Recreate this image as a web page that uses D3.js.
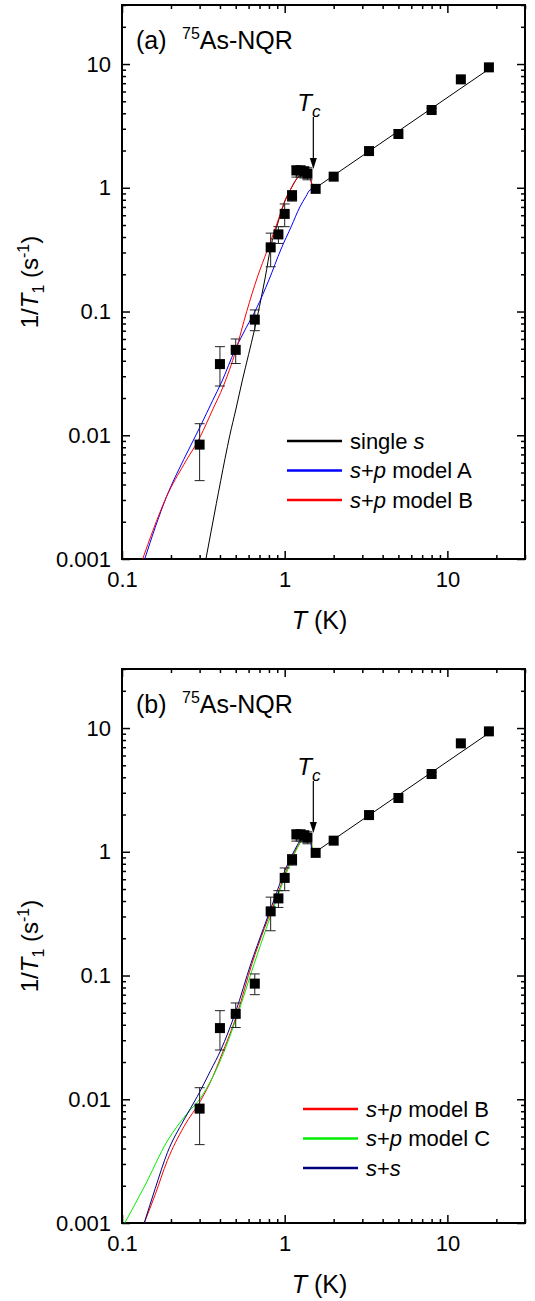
<!DOCTYPE html>
<html>
<head>
<meta charset="utf-8">
<script src="https://cdn.jsdelivr.net/npm/d3@7"></script>
<style>
  body { margin: 0; background: #fff; }
  svg { display: block; font-family: "Liberation Sans", Arial, sans-serif; }
</style>
</head>
<body>
<svg width="535" height="1301"></svg>
<script>
// measured points (same in both panels)
const temps = [0.3, 0.4, 0.5, 0.655, 0.82, 0.915, 1.0, 1.11, 1.18, 1.25, 1.32, 1.38, 1.55, 2.0, 3.3, 5.0, 8.0, 12.1, 18.0];
const rates = [0.0084, 0.0376, 0.049, 0.086, 0.33, 0.42, 0.615, 0.86, 1.38, 1.38, 1.35, 1.30, 0.98, 1.23, 1.98, 2.72, 4.25, 7.52, 9.4];
const errLo = [0.0043, 0.025, 0.038, 0.07, 0.23, 0.355, 0.485, 0.78, 1.22, 1.22, 1.2, 1.16, 0.98, 1.23, 1.98, 2.72, 4.1, 7.52, 9.4];
const errHi = [0.0124, 0.052, 0.060, 0.103, 0.43, 0.485, 0.74, 0.95, 1.5, 1.5, 1.48, 1.45, 0.98, 1.23, 1.98, 2.72, 4.4, 7.52, 9.4];

// normal state line (T1T = const)
const normalLine = [[1.5, 0.97], [18, 9.1]];

// fit curves, panel (a)
const singleS = [[0.328, 0.001], [0.38, 0.0028], [0.43, 0.0065], [0.46, 0.01], [0.5, 0.016], [0.55, 0.028], [0.6, 0.045], [0.65, 0.07], [0.7, 0.11], [0.76, 0.19], [0.82, 0.33], [0.9, 0.5], [1.0, 0.77], [1.1, 1.0], [1.19, 1.19], [1.28, 1.3], [1.37, 1.35], [1.42, 1.28], [1.46, 1.1], [1.5, 0.98]];
const modelA = [[0.138, 0.001], [0.16, 0.0018], [0.188, 0.0032], [0.24, 0.0064], [0.302, 0.0117], [0.36, 0.019], [0.41, 0.027], [0.495, 0.049], [0.58, 0.074], [0.673, 0.107], [0.8, 0.18], [0.95, 0.32], [1.1, 0.49], [1.24, 0.7], [1.35, 0.85], [1.43, 0.96], [1.5, 0.98]];
const modelB = [[0.134, 0.001], [0.155, 0.0017], [0.188, 0.0032], [0.24, 0.0058], [0.302, 0.0097], [0.36, 0.016], [0.42, 0.025], [0.5, 0.048], [0.584, 0.1], [0.68, 0.19], [0.78, 0.31], [0.9, 0.52], [1.0, 0.78], [1.1, 1.0], [1.19, 1.19], [1.28, 1.3], [1.37, 1.35], [1.42, 1.28], [1.46, 1.1], [1.5, 0.98]];

// panel (b)
const modelB2 = [[0.137, 0.001], [0.16, 0.0017], [0.19, 0.0032], [0.24, 0.006], [0.305, 0.0098], [0.36, 0.015], [0.405, 0.022], [0.51, 0.049], [0.63, 0.125], [0.75, 0.24], [0.88, 0.41], [1.0, 0.65], [1.1, 0.88], [1.2, 1.1], [1.3, 1.3], [1.39, 1.38], [1.44, 1.3], [1.47, 1.1], [1.5, 0.98]];
const modelC = [[0.104, 0.001], [0.137, 0.00196], [0.19, 0.0046], [0.25, 0.0076], [0.305, 0.0103], [0.36, 0.015], [0.405, 0.021], [0.51, 0.047], [0.65, 0.125], [0.77, 0.24], [0.89, 0.41], [1.0, 0.62], [1.1, 0.85], [1.2, 1.08], [1.3, 1.28], [1.4, 1.36], [1.45, 1.25], [1.48, 1.05], [1.5, 0.98]];
const sPlusS = [[0.137, 0.001], [0.16, 0.0019], [0.19, 0.0037], [0.24, 0.0068], [0.29, 0.0105], [0.35, 0.017], [0.405, 0.025], [0.5, 0.051], [0.62, 0.125], [0.74, 0.24], [0.86, 0.41], [1.0, 0.7], [1.1, 0.92], [1.19, 1.12], [1.28, 1.32], [1.37, 1.45], [1.42, 1.42], [1.45, 1.2], [1.47, 0.92]];

const xMajor = [0.1, 1, 10];
const xLabels = ["0.1", "1", "10"];
const yMajor = [0.001, 0.01, 0.1, 1, 10];
const yLabels = ["0.001", "0.01", "0.1", "1", "10"];

const svg = d3.select("svg");

const x = d3.scaleLog().domain([0.1, 30]).range([122, 525]);

function minors(lo, hi) {
    const out = [];
    for (let e = Math.floor(Math.log10(lo)); e <= Math.ceil(Math.log10(hi)); e++) {
        for (let m = 2; m <= 9; m++) {
            const v = m * Math.pow(10, e);
            if (v > lo && v <= hi) out.push(v);
        }
    }
    return out;
}

function drawPanel(top, bottom, label, curves, legendX, legendY) {
    const g = svg.append("g");
    const y = d3.scaleLog().domain([0.001, 30]).range([bottom, top]);
    const left = x.range()[0], right = x.range()[1];

    // minor + major ticks on all four sides, pointing inward
    const fmtX = v => xLabels[xMajor.indexOf(v)];
    const fmtY = v => yLabels[yMajor.indexOf(v)];

    const addAxis = (axis, tr) => {
        const a = g.append("g").attr("transform", tr).call(axis);
        a.select(".domain").remove();
        a.selectAll("line").attr("stroke", "#000").attr("stroke-width", 1.5);
        a.selectAll("text").attr("font-size", 22).attr("fill", "#000")
            .attr("font-family", "Liberation Sans, Arial, sans-serif");
        return a;
    };

    addAxis(d3.axisBottom(x).tickValues(xMajor).tickFormat(fmtX).tickSize(-8).tickPadding(12), `translate(0,${bottom})`);
    addAxis(d3.axisBottom(x).tickValues(minors(0.1, 30)).tickFormat("").tickSize(-4), `translate(0,${bottom})`);
    addAxis(d3.axisTop(x).tickValues(xMajor).tickFormat("").tickSize(-8), `translate(0,${top})`);
    addAxis(d3.axisTop(x).tickValues(minors(0.1, 30)).tickFormat("").tickSize(-4), `translate(0,${top})`);
    addAxis(d3.axisLeft(y).tickValues(yMajor).tickFormat(fmtY).tickSize(-8).tickPadding(11), `translate(${left},0)`);
    addAxis(d3.axisLeft(y).tickValues(minors(0.001, 30)).tickFormat("").tickSize(-4), `translate(${left},0)`);
    addAxis(d3.axisRight(y).tickValues(yMajor).tickFormat("").tickSize(-8), `translate(${right},0)`);
    addAxis(d3.axisRight(y).tickValues(minors(0.001, 30)).tickFormat("").tickSize(-4), `translate(${right},0)`);

    g.append("rect")
        .attr("x", left).attr("y", top)
        .attr("width", right - left).attr("height", bottom - top)
        .attr("fill", "none").attr("stroke", "#000").attr("stroke-width", 2);

    const clipId = "clip" + label;
    g.append("clipPath").attr("id", clipId).append("rect")
        .attr("x", left).attr("y", top).attr("width", right - left).attr("height", bottom - top);

    const plot = g.append("g").attr("clip-path", `url(#${clipId})`);
    const line = d3.line().x(d => x(d[0])).y(d => y(d[1])).curve(d3.curveMonotoneX);

    curves.forEach(c => {
        plot.append("path").datum(c.data)
            .attr("d", line).attr("fill", "none")
            .attr("stroke", c.color).attr("stroke-width", 1);
    });

    plot.append("path").datum(normalLine)
        .attr("d", d3.line().x(d => x(d[0])).y(d => y(d[1])))
        .attr("fill", "none").attr("stroke", "#000").attr("stroke-width", 1);

    // error bars
    const pts = temps.map((t, i) => ({ t, v: rates[i], lo: errLo[i], hi: errHi[i] }));
    const eb = plot.append("g").attr("stroke", "#222").attr("stroke-width", 1);
    pts.filter(d => d.hi / d.lo > 1.05).forEach(d => {
        const cx = x(d.t);
        eb.append("line").attr("x1", cx).attr("x2", cx).attr("y1", y(d.lo)).attr("y2", y(d.hi));
        eb.append("line").attr("x1", cx - 5).attr("x2", cx + 5).attr("y1", y(d.lo)).attr("y2", y(d.lo));
        eb.append("line").attr("x1", cx - 5).attr("x2", cx + 5).attr("y1", y(d.hi)).attr("y2", y(d.hi));
    });

    plot.append("g").selectAll("rect").data(pts).join("rect")
        .attr("x", d => x(d.t) - 5).attr("y", d => y(d.v) - 5)
        .attr("width", 10).attr("height", 10).attr("fill", "#000");

    // Tc arrow
    const ax = x(1.5);
    const yTop = y(3.73), yTip = y(1.42);
    g.append("line").attr("x1", ax).attr("x2", ax).attr("y1", yTop).attr("y2", yTip - 9)
        .attr("stroke", "#000").attr("stroke-width", 1.2);
    g.append("path")
        .attr("d", `M${ax - 3.5},${yTip - 11}L${ax + 3.5},${yTip - 11}L${ax},${yTip}Z`)
        .attr("fill", "#000");
    const tc = g.append("text").attr("x", ax - 16).attr("y", yTop - 6).attr("font-size", 24).attr("font-style", "italic");
    tc.append("tspan").text("T");
    tc.append("tspan").attr("font-size", 17).attr("dy", 6).text("c");

    // panel label
    g.append("text").attr("x", 136).attr("y", top + 44).attr("font-size", 25).text(`(${label})`);
    const nuc = g.append("text").attr("x", 182).attr("y", top + 44).attr("font-size", 25);
    nuc.append("tspan").attr("font-size", 16).attr("dy", -10).text("75");
    nuc.append("tspan").attr("dy", 10).text("As-NQR");

    // axis titles
    const yt = g.append("text")
        .attr("transform", `translate(38,${(top + bottom) / 2}) rotate(-90)`)
        .attr("text-anchor", "middle").attr("font-size", 24);
    yt.append("tspan").text("1/");
    yt.append("tspan").attr("font-style", "italic").text("T");
    yt.append("tspan").attr("font-size", 16).attr("dy", 6).text("1");
    yt.append("tspan").attr("dy", -6).text(" (s");
    yt.append("tspan").attr("font-size", 16).attr("dy", -9).text("-1");
    yt.append("tspan").attr("dy", 9).text(")");

    const xt = g.append("text").attr("x", (left + right) / 2 - 4).attr("y", bottom + 70)
        .attr("text-anchor", "middle").attr("font-size", 25);
    xt.append("tspan").attr("font-style", "italic").text("T");
    xt.append("tspan").text(" (K)");

    // legend
    curves.forEach((c, i) => {
        const ly = legendY + i * 29.5;
        g.append("line").attr("x1", legendX).attr("x2", legendX + 55)
            .attr("y1", ly).attr("y2", ly).attr("stroke", c.color).attr("stroke-width", 2.5);
        const t = g.append("text").attr("x", legendX + 63).attr("y", ly).attr("dy", "0.35em").attr("font-size", 22);
        c.label.forEach(p => t.append("tspan").attr("font-style", p[1] ? "italic" : null).text(p[0]));
    });
}

drawPanel(5, 559, "a", [
    { data: singleS, color: "#000000", label: [["single ", 0], ["s", 1]] },
    { data: modelA, color: "#0000ff", label: [["s", 1], ["+", 0], ["p", 1], [" model A", 0]] },
    { data: modelB, color: "#ff0000", label: [["s", 1], ["+", 0], ["p", 1], [" model B", 0]] }
], 287, 441);

drawPanel(669, 1223, "b", [
    { data: modelB2, color: "#ff0000", label: [["s", 1], ["+", 0], ["p", 1], [" model B", 0]] },
    { data: modelC, color: "#00ee00", label: [["s", 1], ["+", 0], ["p", 1], [" model C", 0]] },
    { data: sPlusS, color: "#000080", label: [["s", 1], ["+", 0], ["s", 1]] }
], 303, 1109);
</script>
</body>
</html>
